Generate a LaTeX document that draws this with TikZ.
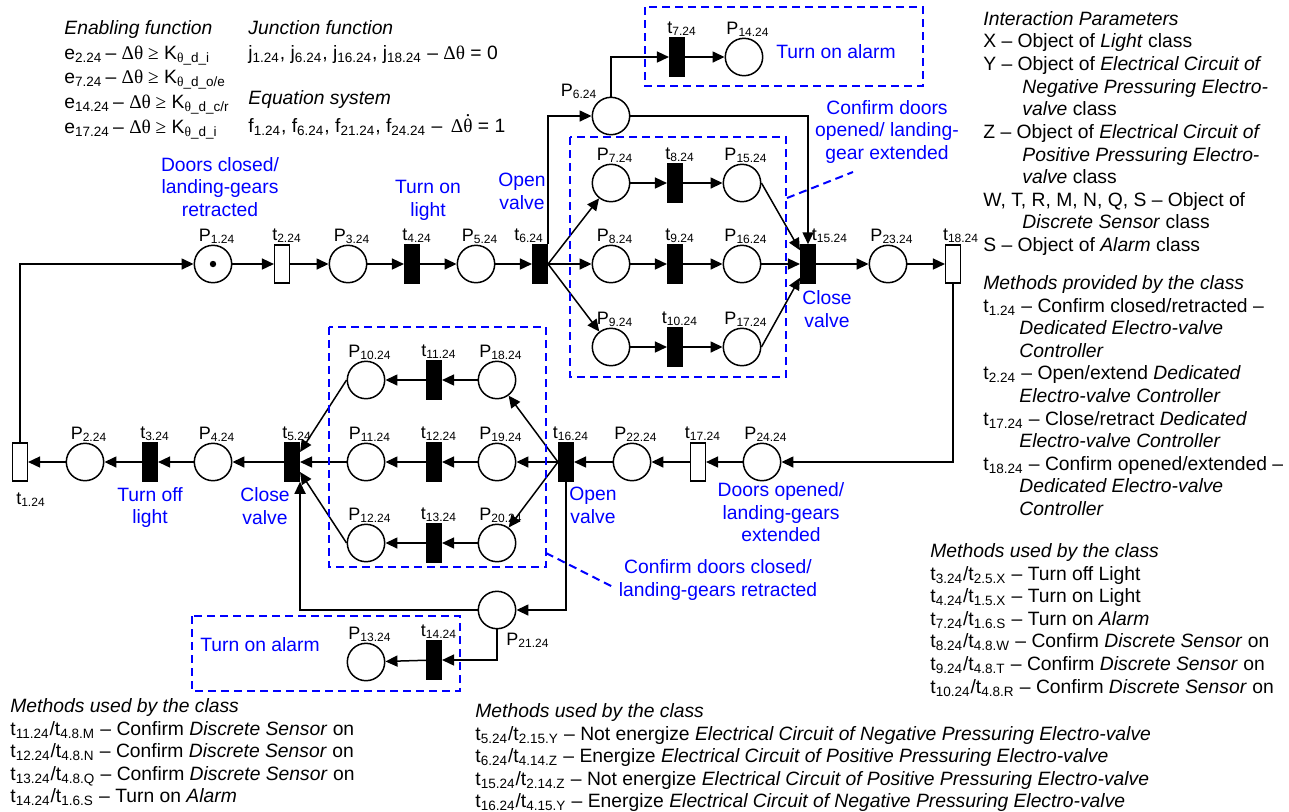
\documentclass[tikz,border=0pt]{standalone}
\usepackage{fontspec}
\setmainfont{Liberation Sans}
\newfontfamily\symf{Liberation Serif}
\usetikzlibrary{arrows.meta}
\newcommand\sbs[1]{\textsubscript{#1}}
\newcommand\mainf{\fontsize{9.65pt}{11.3pt}\selectfont}
\newcommand\labf{\fontsize{9pt}{10.5pt}\selectfont}
\newcommand\topf{\fontsize{9.65pt}{12.4pt}\selectfont}
\newcommand\eqf{\fontsize{9.65pt}{14pt}\selectfont}
\newcommand\dth{{\symf\ooalign{θ\cr\hidewidth\smash{\raisebox{0.8em}{.}}\hidewidth\cr}}}
\tikzset{
  x=0.5pt, y=-0.5pt,
  pl/.style={circle,draw,line width=0.75pt,minimum size=18.7pt,inner sep=0,fill=white},
  tb/.style={rectangle,draw,fill=black,line width=0.75pt,minimum width=7.3pt,minimum height=19pt,inner sep=0},
  tw/.style={rectangle,draw,fill=white,line width=0.75pt,minimum width=7.3pt,minimum height=19pt,inner sep=0},
  lbl/.style={font=\labf,anchor=base,inner sep=0},
  lp/.style={label={[lbl,label distance=1.7pt,xshift=2pt]90:#1}},
  lt/.style={label={[lbl,label distance=2pt,xshift=2.5pt]90:#1}},
  arc/.style={line width=0.75pt,-{Triangle[length=6pt,width=5.5pt]}},
  bl/.style={text=blue,align=center,font=\mainf,inner sep=0,anchor=north},
  txt/.style={align=left,font=\mainf,inner sep=0,anchor=north west},
  dbox/.style={draw=blue,line width=1pt,dash pattern=on 4pt off 2.5pt},
}
\begin{document}
\begin{tikzpicture}
\useasboundingbox (0,0) rectangle (1289,811);

% ---------- upper net ----------
\node[pl,lp=P\sbs{1.24}] (p1) at (213,264) {};
\fill (p1) circle (1.6pt);
\node[tw,lt=t\sbs{2.24}] (t2) at (282,264) {};
\node[pl,lp=P\sbs{3.24}] (p3) at (348,264) {};
\node[tb,lt=t\sbs{4.24}] (t4) at (412,264) {};
\node[pl,lp=P\sbs{5.24}] (p5) at (476,264) {};
\node[tb,label={[lbl,label distance=2pt,xshift=-5.5pt]90:t\sbs{6.24}}] (t6) at (540,264) {};
\node[pl,label={[lbl,label distance=0pt,xshift=-16pt]90:P\sbs{6.24}}] (p6) at (611,116) {};
\node[tb,lt=t\sbs{7.24}] (t7) at (677,57) {};
\node[pl,lp=P\sbs{14.24}] (p14) at (744,57) {};
\node[pl,lp=P\sbs{7.24}] (p7) at (611,183) {};
\node[pl,lp=P\sbs{8.24}] (p8) at (611,264) {};
\node[pl,lp=P\sbs{9.24}] (p9) at (611,347) {};
\node[tb,lt=t\sbs{8.24}] (t8) at (675,183) {};
\node[tb,lt=t\sbs{9.24}] (t9) at (675,264) {};
\node[tb,lt=t\sbs{10.24}] (t10) at (675,347) {};
\node[pl,lp=P\sbs{15.24}] (p15) at (742,183) {};
\node[pl,lp=P\sbs{16.24}] (p16) at (742,264) {};
\node[pl,lp=P\sbs{17.24}] (p17) at (742,347) {};
\node[tb,label={[lbl,label distance=2pt,xshift=11pt]90:t\sbs{15.24}}] (t15) at (808,264) {};
\node[pl,lp=P\sbs{23.24}] (p23) at (888,264) {};
\node[tw,label={[lbl,label distance=2pt,xshift=4pt]90:t\sbs{18.24}}] (t18) at (953,264) {};

% ---------- lower net ----------
\node[tw,label={[lbl,label distance=11.5pt,xshift=5.5pt]270:t\sbs{1.24}}] (t1) at (20,462) {};
\node[pl,lp=P\sbs{2.24}] (p2) at (85,462) {};
\node[tb,lt=t\sbs{3.24}] (t3) at (150,462) {};
\node[pl,lp=P\sbs{4.24}] (p4) at (213,462) {};
\node[tb,lt=t\sbs{5.24}] (t5) at (292,462) {};
\node[pl,lp=P\sbs{10.24}] (p10) at (366,380) {};
\node[pl,lp=P\sbs{11.24}] (p11) at (366,462) {};
\node[pl,lp=P\sbs{12.24}] (p12) at (366,543) {};
\node[tb,lt=t\sbs{11.24}] (t11) at (434,380) {};
\node[tb,lt=t\sbs{12.24}] (t12) at (434,462) {};
\node[tb,lt=t\sbs{13.24}] (t13) at (434,543) {};
\node[pl,lp=P\sbs{18.24}] (p18) at (497,380) {};
\node[pl,lp=P\sbs{19.24}] (p19) at (497,462) {};
\node[pl,lp=P\sbs{20.24}] (p20) at (497,543) {};
\node[tb,lt=t\sbs{16.24}] (t16) at (566,462) {};
\node[pl,lp=P\sbs{22.24}] (p22) at (632,462) {};
\node[tw,lt=t\sbs{17.24}] (t17) at (698,462) {};
\node[pl,lp=P\sbs{24.24}] (p24) at (762,462) {};
\node[pl,label={[lbl,label distance=8pt,xshift=15.5pt]270:P\sbs{21.24}}] (p21) at (497,610) {};
\node[tb,lt=t\sbs{14.24}] (t14) at (434,660) {};
\node[pl,lp=P\sbs{13.24}] (p13) at (366,662) {};

% ---------- arcs upper ----------
\draw[arc] (t1.north) |- (p1.west);
\draw[arc] (p1) -- (t2);
\draw[arc] (t2) -- (p3);
\draw[arc] (p3) -- (t4);
\draw[arc] (t4) -- (p5);
\draw[arc] (p5) -- (t6);
\draw[arc] (t6.north east) |- (p6.west);
\draw[arc] (p6.north) |- (t7.west);
\draw[arc] (t7) -- (p14);
\draw[arc] (p6.east) -| (t15.north);
\draw[arc] (t6.east) -- (p7);
\draw[arc] (t6.east) -- (p8);
\draw[arc] (t6.east) -- (p9);
\draw[arc] (p7) -- (t8);
\draw[arc] (t8) -- (p15);
\draw[arc] (p8) -- (t9);
\draw[arc] (t9) -- (p16);
\draw[arc] (p9) -- (t10);
\draw[arc] (t10) -- (p17);
\draw[arc] (p15.east) -- ([yshift=-3pt]t15.north west);
\draw[arc] (p16) -- (t15);
\draw[arc] (p17.east) -- ([yshift=3pt]t15.south west);
\draw[arc] (t15) -- (p23);
\draw[arc] (p23) -- (t18);
\draw[arc] (t18.south) |- (p24.east);

% ---------- arcs lower ----------
\draw[arc] (p24) -- (t17);
\draw[arc] (t17) -- (p22);
\draw[arc] (p22) -- (t16);
\draw[arc] (t16.west) -- (p18);
\draw[arc] (t16.west) -- (p19);
\draw[arc] (t16.west) -- (p20);
\draw[arc] (p18) -- (t11);
\draw[arc] (t11) -- (p10);
\draw[arc] (p19) -- (t12);
\draw[arc] (t12) -- (p11);
\draw[arc] (p20) -- (t13);
\draw[arc] (t13) -- (p12);
\draw[arc] (p10.west) -- ([yshift=5pt]t5.east);
\draw[arc] (p11) -- (t5);
\draw[arc] (p12.west) -- ([yshift=-5pt]t5.east);
\draw[arc] (t5) -- (p4);
\draw[arc] (p4) -- (t3);
\draw[arc] (t3) -- (p2);
\draw[arc] (p2) -- (t1);
\draw[arc] (t16.south) |- (p21.east);
\draw[arc] (p21.west) -| (t5.south east);
\draw[arc] (p21.south) |- (t14.east);
\draw[arc] (t14) -- (p13);

% ---------- dashed boxes ----------
\draw[dbox] (645,7) rectangle (923,86);
\draw[dbox] (570,137) rectangle (786,377);
\draw[dbox] (329,327) rectangle (546,567);
\draw[dbox] (192,616) rectangle (460,691);
\draw[dbox] (787,198) -- (853,172);
\draw[dbox] (546,553) -- (615,588);

% ---------- blue labels ----------
\node[bl] (b1) at (220,157) {Doors closed/\\landing-gears\\retracted};
\node[bl] (b2) at (428,180) {Turn on\\light};
\node[bl] (b3) at (522,173) {Open\\valve};
\node[bl] (b4) at (827,290) {Close\\valve};
\node[bl] (b5) at (887,100) {Confirm doors\\opened/ landing-\\gear extended};
\node[bl] (b6) at (836,44) {Turn on alarm};
\node[bl] (b7) at (150,487) {Turn off\\light};
\node[bl] (b8) at (265,487) {Close\\valve};
\node[bl] (b9) at (593,487) {Open\\valve};
\node[bl] (b10) at (781,482) {Doors opened/\\landing-gears\\extended};
\node[bl] (b11) at (718,559) {Confirm doors closed/\\landing-gears retracted};
\node[bl] (b12) at (260,637) {Turn on alarm};

% ---------- text blocks ----------
\node[txt,font=\topf] (enab) at (64,20) {\textit{Enabling function}\\
e\sbs{2.24}\,– {\symf Δθ ≥} K\sbs{{\symf θ}\_d\_i}\\
e\sbs{7.24}\,– {\symf Δθ ≥} K\sbs{{\symf θ}\_d\_o/e}\\
e\sbs{14.24}\,– {\symf Δθ ≥} K\sbs{{\symf θ}\_d\_c/r}\\
e\sbs{17.24}\,– {\symf Δθ ≥} K\sbs{{\symf θ}\_d\_i}};
\node[txt,font=\topf] (junc) at (248,20) {\textit{Junction function}\\
j\sbs{1.24}, j\sbs{6.24}, j\sbs{16.24}, j\sbs{18.24} – {\symf Δθ} = 0};
\node[txt,font=\eqf] (eqs) at (248,90) {\textit{Equation system}\\
f\sbs{1.24}, f\sbs{6.24}, f\sbs{21.24}, f\sbs{24.24} – \,{\symf Δ}\dth\ = 1};

\node[txt] (ip) at (983,11) {\textit{Interaction Parameters}\\
X – Object of \textit{Light} class\\
Y – Object of \textit{Electrical Circuit of}\\
\hspace*{19.5pt}\textit{Negative Pressuring Electro-}\\
\hspace*{19.5pt}\textit{valve} class\\
Z – Object of \textit{Electrical Circuit of}\\
\hspace*{19.5pt}\textit{Positive Pressuring Electro-}\\
\hspace*{19.5pt}\textit{valve} class\\
W, T, R, M, N, Q, S – Object of\\
\hspace*{19.5pt}\textit{Discrete Sensor} class\\
S – Object of \textit{Alarm} class};

\node[txt] (mp) at (983,275) {\textit{Methods provided by the class}\\
t\sbs{1.24} – Confirm closed/retracted –\\
\hspace*{18pt}\textit{Dedicated Electro-valve}\\
\hspace*{18pt}\textit{Controller}\\
t\sbs{2.24} – Open/extend \textit{Dedicated}\\
\hspace*{18pt}\textit{Electro-valve Controller}\\
t\sbs{17.24} – Close/retract \textit{Dedicated}\\
\hspace*{18pt}\textit{Electro-valve Controller}\\
t\sbs{18.24} – Confirm opened/extended –\\
\hspace*{18pt}\textit{Dedicated Electro-valve}\\
\hspace*{18pt}\textit{Controller}};

\node[txt] (mu1) at (930,543) {\textit{Methods used by the class}\\
t\sbs{3.24}/t\sbs{2.5.X} – Turn off Light\\
t\sbs{4.24}/t\sbs{1.5.X} – Turn on Light\\
t\sbs{7.24}/t\sbs{1.6.S} – Turn on \textit{Alarm}\\
t\sbs{8.24}/t\sbs{4.8.W} – Confirm \textit{Discrete Sensor} on\\
t\sbs{9.24}/t\sbs{4.8.T} – Confirm \textit{Discrete Sensor} on\\
t\sbs{10.24}/t\sbs{4.8.R} – Confirm \textit{Discrete Sensor} on};

\node[txt] (mu2) at (10,698) {\textit{Methods used by the class}\\
t\sbs{11.24}/t\sbs{4.8.M} – Confirm \textit{Discrete Sensor} on\\
t\sbs{12.24}/t\sbs{4.8.N} – Confirm \textit{Discrete Sensor} on\\
t\sbs{13.24}/t\sbs{4.8.Q} – Confirm \textit{Discrete Sensor} on\\
t\sbs{14.24}/t\sbs{1.6.S} – Turn on \textit{Alarm}};

\node[txt] (mu3) at (475,703) {\textit{Methods used by the class}\\
t\sbs{5.24}/t\sbs{2.15.Y} – Not energize \textit{Electrical Circuit of Negative Pressuring Electro-valve}\\
t\sbs{6.24}/t\sbs{4.14.Z} – Energize \textit{Electrical Circuit of Positive Pressuring Electro-valve}\\
t\sbs{15.24}/t\sbs{2.14.Z} – Not energize \textit{Electrical Circuit of Positive Pressuring Electro-valve}\\
t\sbs{16.24}/t\sbs{4.15.Y} – Energize \textit{Electrical Circuit of Negative Pressuring Electro-valve}};
\end{tikzpicture}
\end{document}
